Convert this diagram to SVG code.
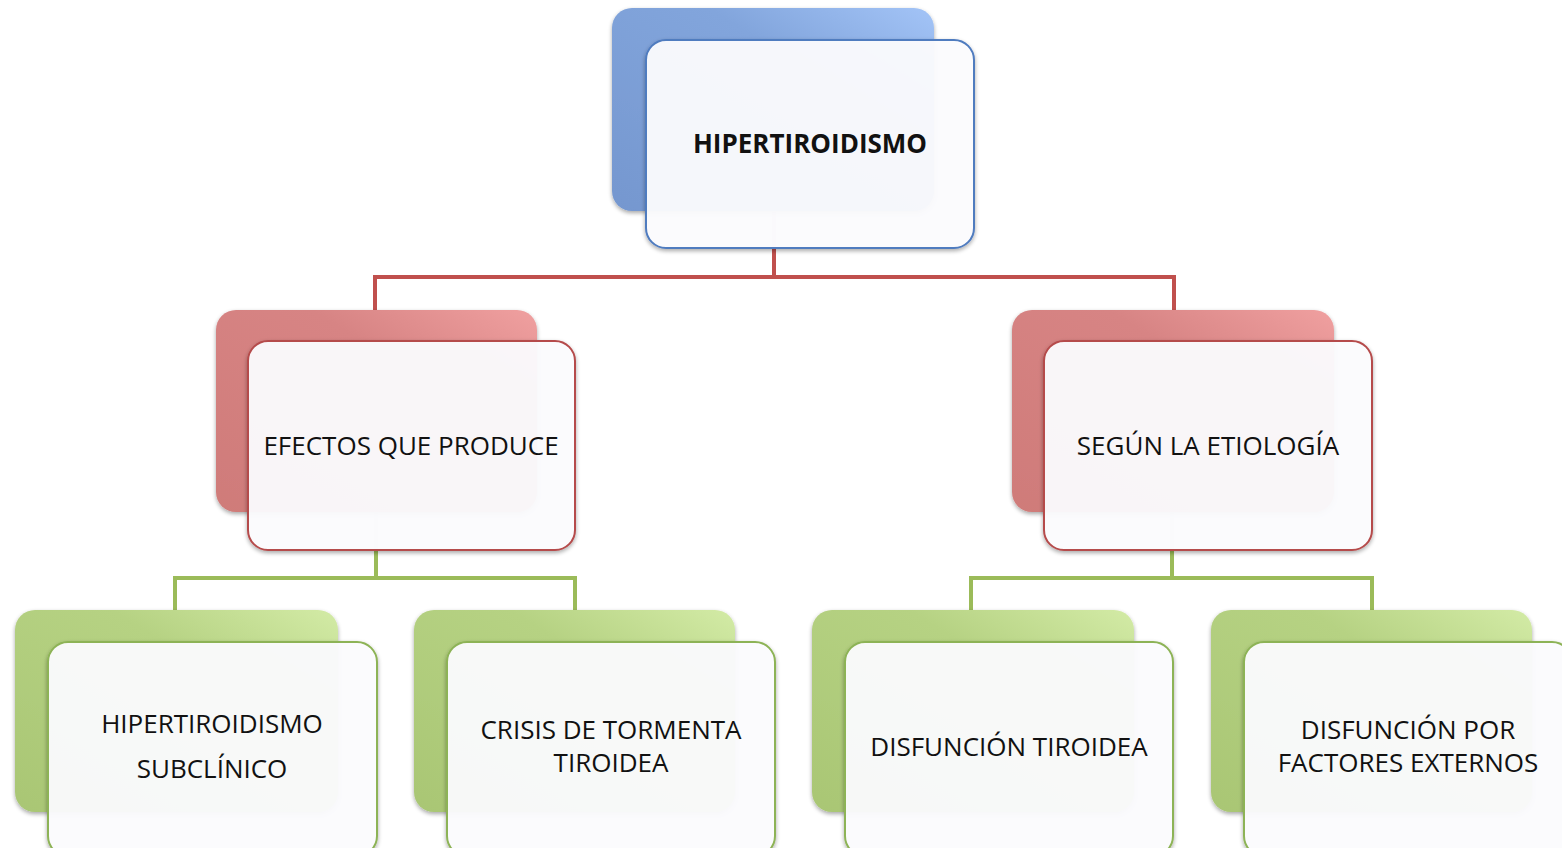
<svg xmlns="http://www.w3.org/2000/svg" width="1562" height="848" viewBox="0 0 1562 848">
  <defs>
    <linearGradient id="gBlue" x1="0" y1="1" x2="1" y2="0">
      <stop offset="0" stop-color="#7597cf"/>
      <stop offset="0.65" stop-color="#82a5dc"/>
      <stop offset="1" stop-color="#a3c4f7"/>
    </linearGradient>
    <linearGradient id="gRed" x1="0" y1="1" x2="1" y2="0">
      <stop offset="0" stop-color="#cf7b79"/>
      <stop offset="0.65" stop-color="#d78484"/>
      <stop offset="1" stop-color="#f0a0a0"/>
    </linearGradient>
    <linearGradient id="gGreen" x1="0" y1="1" x2="1" y2="0">
      <stop offset="0" stop-color="#a9c674"/>
      <stop offset="0.65" stop-color="#b6d283"/>
      <stop offset="1" stop-color="#d3eba6"/>
    </linearGradient>
    <filter id="soft" x="-5%" y="-5%" width="110%" height="110%">
      <feGaussianBlur in="SourceAlpha" stdDeviation="2"/>
      <feOffset dx="0" dy="2"/>
      <feComponentTransfer><feFuncA type="linear" slope="0.35"/></feComponentTransfer>
      <feMerge><feMergeNode/><feMergeNode in="SourceGraphic"/></feMerge>
    </filter>
  </defs>
  <style>
    .back { filter: url(#soft); }
    .front { fill: #fdfdff; fill-opacity: 0.94; stroke-width: 2; filter: url(#soft); }
    .fb { stroke: #4f7bbf; }
    .fr { stroke: #b54b4b; }
    .fg { stroke: #8db356; }
    .lbl { font-family: "Open Sans", "Liberation Sans", sans-serif; font-size: 26px; fill: #111; text-anchor: middle; }
    .bold { font-weight: bold; }
    .red { stroke: #c0504d; stroke-width: 4; fill: none; }
    .green { stroke: #9bbb59; stroke-width: 4; fill: none; }
  </style>

  <!-- connectors -->
  <g id="connectors">
    <line x1="774" y1="212" x2="774" y2="248" stroke="#f2dbe6" stroke-width="4"/>
    <path class="red" d="M774 248 V277 M375 310 V277 H1174 V310"/>
    <line x1="376" y1="513" x2="376" y2="550" stroke="#eef0f6" stroke-width="4"/>
    <line x1="1172" y1="513" x2="1172" y2="550" stroke="#eef0f6" stroke-width="4"/>
    <path class="green" d="M376 550 V578 M175 610 V578 H575 V610"/>
    <path class="green" d="M1172 550 V578 M971 610 V578 H1372 V610"/>
  </g>

  <g id="n-hipertiroidismo">
    <rect class="back" x="612" y="8" width="322" height="203" rx="20" fill="url(#gBlue)"/>
    <rect class="front fb" x="646" y="40" width="328" height="208" rx="20"/>
    <text class="lbl bold" x="810" y="153">HIPERTIROIDISMO</text>
  </g>

  <g id="n-efectos">
    <rect class="back" x="216" y="310" width="321" height="202" rx="20" fill="url(#gRed)"/>
    <rect class="front fr" x="248" y="341" width="327" height="209" rx="20"/>
    <text class="lbl" x="411" y="455">EFECTOS QUE PRODUCE</text>
  </g>

  <g id="n-etiologia">
    <rect class="back" x="1012" y="310" width="322" height="202" rx="20" fill="url(#gRed)"/>
    <rect class="front fr" x="1044" y="341" width="328" height="209" rx="20"/>
    <text class="lbl" x="1208" y="455">SEGÚN LA ETIOLOGÍA</text>
  </g>

  <g id="n-subclinico">
    <rect class="back" x="15" y="610" width="323" height="202" rx="20" fill="url(#gGreen)"/>
    <rect class="front fg" x="48" y="642" width="329" height="214" rx="20"/>
    <text class="lbl" x="212" y="733">HIPERTIROIDISMO</text>
    <text class="lbl" x="212" y="778">SUBCLÍNICO</text>
  </g>

  <g id="n-crisis">
    <rect class="back" x="414" y="610" width="321" height="202" rx="20" fill="url(#gGreen)"/>
    <rect class="front fg" x="447" y="642" width="328" height="214" rx="20"/>
    <text class="lbl" x="611" y="739">CRISIS DE TORMENTA</text>
    <text class="lbl" x="611" y="772">TIROIDEA</text>
  </g>

  <g id="n-disfuncion">
    <rect class="back" x="812" y="610" width="322" height="202" rx="20" fill="url(#gGreen)"/>
    <rect class="front fg" x="845" y="642" width="328" height="214" rx="20"/>
    <text class="lbl" x="1009" y="756">DISFUNCIÓN TIROIDEA</text>
  </g>

  <g id="n-externos">
    <rect class="back" x="1211" y="610" width="321" height="202" rx="20" fill="url(#gGreen)"/>
    <rect class="front fg" x="1244" y="642" width="328" height="214" rx="20"/>
    <text class="lbl" x="1408" y="739">DISFUNCIÓN POR</text>
    <text class="lbl" x="1408" y="772">FACTORES EXTERNOS</text>
  </g>
</svg>
